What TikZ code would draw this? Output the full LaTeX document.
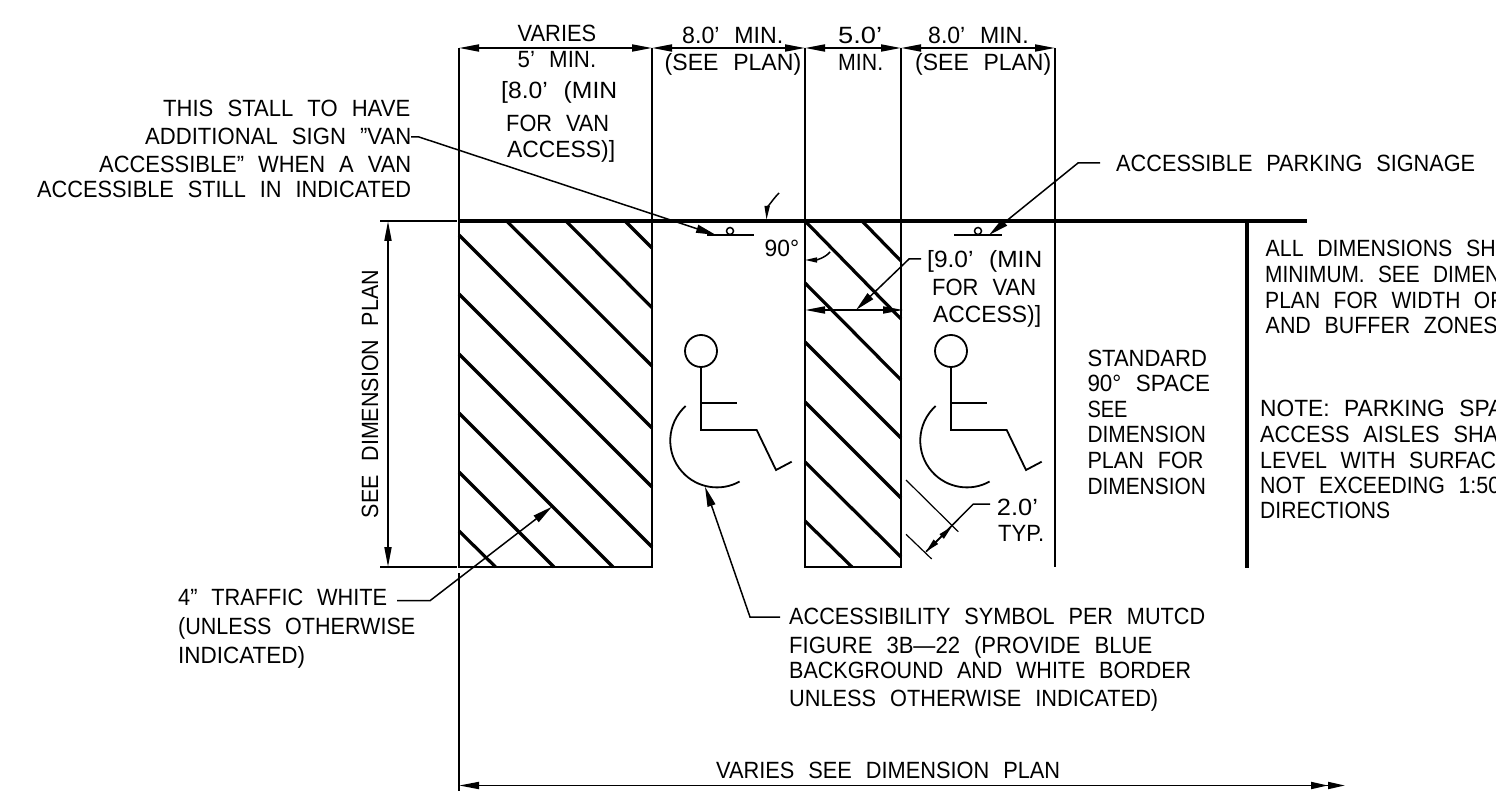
\documentclass[tikz,border=0pt]{standalone}
\usepackage{graphicx}
\usepackage{fontspec}
\setmainfont[FakeStretch=0.9,WordSpace=2.3]{Liberation Sans}
\usetikzlibrary{arrows.meta}
\tikzset{
  thinln/.style={line width=1.8pt,line join=miter},
  hatchln/.style={line width=3.2pt,line cap=butt},
  wall/.style={line width=4pt},
  thickln/.style={line width=3.5pt},
  bigdim/.style={thinln,{Triangle[length=20pt,width=7pt]}-{Triangle[length=20pt,width=7pt]}},
  leadarrow/.style={line width=1.5pt,-{Triangle[length=20pt,width=8pt]}},
  txt/.style={anchor=base west,inner sep=0pt,font=\fontsize{23.5pt}{23.5pt}\selectfont},
}
% name, left x, baseline y, width, text
\newcommand{\TL}[5]{\node[txt] (#1) at (#2,#3) {\resizebox{#4pt}{\height}{#5}};}
\newcommand{\WCHAIR}{%
  \draw[thinln] (701,351) circle[radius=16pt];
  \draw[thinln] (701,367) -- (701,430) -- (756.7,430) -- (776,470) -- (791.7,461.7);
  \draw[thinln] (701,403.3) -- (736.7,403.3);
  \draw[thinln] (685.7,406) arc[start angle=132,end angle=299,radius=46.7pt];
}
\begin{document}
\begin{tikzpicture}[x=1pt,y=-1pt]
\path[use as bounding box] (0,0) rectangle (1496,791);
\clip (0,0) rectangle (1496,791);
\fill[white] (0,0) rectangle (1496,791);

% grid coordinates
\coordinate (a0) at (459,48); \coordinate (a1) at (652,48); \coordinate (a2) at (805,48);
\coordinate (a3) at (901,48); \coordinate (a4) at (1055,48);
\coordinate (b1) at (652,567); \coordinate (b2) at (805,567); \coordinate (b3) at (901,567);
\coordinate (b4) at (1055,567); \coordinate (b0) at (459,567);
\coordinate (lowA) at (459,573); \coordinate (lowB) at (459,791);
\coordinate (wallL) at (459,221); \coordinate (wallR) at (1307,221);

% verticals
\draw[thinln] (a0) -- (b0) -- (b1) -- (a1);
\draw[thinln] (lowA) -- (lowB);
\draw[thinln] (a2) -- (b2) -- (b3) -- (a3);
\draw[thinln] (a4) -- (b4);
\draw[thickln] (1247,221) -- (1247,568);
\draw[wall] (wallL) -- (wallR);

% top dimensions
\draw[bigdim] (a0) -- (a1);
\draw[bigdim] (a1) -- (a2);
\draw[bigdim] (a2) -- (a3);
\draw[bigdim] (a3) -- (a4);

% left dimension
\draw[thinln] (380,221) -- (457,221);
\draw[thinln] (380,567) -- (457,567);
\draw[bigdim] (388,221) -- (388,567);
\node[txt,anchor=base,rotate=90] (seedim) at (378,394) {\resizebox{248pt}{\height}{SEE DIMENSION PLAN}};

% bottom dimension
\coordinate (botL) at (459,785.5); \coordinate (botR) at (1345,785.5);
\draw[thinln,{Triangle[length=20pt,width=7pt]}-{Triangle[length=17pt,width=7pt]Triangle[length=17pt,width=7pt]}] (botL) -- (botR);

% hatch left
\draw[hatchln] (506.7,221) -- (652,366);
\draw[hatchln] (566,221) -- (652,307.7);
\draw[hatchln] (625,221) -- (652,248);
\draw[hatchln] (459,235) -- (652,428);
\draw[hatchln] (459,294) -- (652,487);
\draw[hatchln] (459,354) -- (652,547);
\draw[hatchln] (459,413) -- (613,567);
\draw[hatchln] (459,472) -- (554,567);
\draw[hatchln] (459,531) -- (495.6,567);
% hatch right
\draw[hatchln] (805,221) -- (901,319);
\draw[hatchln] (862,221) -- (901,261);
\draw[hatchln] (805,283) -- (901,380);
\draw[hatchln] (805,342) -- (901,438);
\draw[hatchln] (805,402) -- (901,498);
\draw[hatchln] (805,462) -- (901,557);
\draw[hatchln] (805,521) -- (852,567);

% signs
\coordinate (signA) at (716,235); \coordinate (signB) at (989,235);
\draw[thinln] (707,235) -- (754,235);
\draw[line width=1.5pt] (730,231) circle[radius=3.5pt];
\draw[thinln] (954,235) -- (1002,235);
\draw[line width=1.5pt] (978,231) circle[radius=3.5pt];

% wheelchairs
\WCHAIR
\begin{scope}[xshift=250pt]\WCHAIR\end{scope}

% curved marks
\coordinate (brkA) at (779,193); \coordinate (brkB) at (766.5,220);
\draw[line width=1.5pt,-{Triangle[length=14pt,width=5pt]}] (brkA) .. controls (772,200) and (767,209) .. (brkB);
\coordinate (angA) at (830,252); \coordinate (angB) at (805,260);
\draw[line width=1.5pt,-{Triangle[length=12pt,width=5pt]}] (angA) .. controls (825,258) and (816,260) .. (angB);

% 5 ft width dimension
\coordinate (dimL) at (805,310); \coordinate (dimR) at (903,310);
\draw[bigdim] (dimL) -- (dimR);

% 2.0 dim
\draw[line width=1.2pt] (906,480) -- (958.3,531.7);
\draw[line width=1.2pt] (906,534.3) -- (931.7,559);
\coordinate (t2A) at (926,551.7); \coordinate (t2B) at (951.7,526.7);
\coordinate (t2C) at (973.3,504); \coordinate (t2D) at (990,504);
\draw[line width=1.5pt,-{Triangle[length=14pt,width=6pt]}] (t2D) -- (t2C) -- (t2A);
\draw[line width=1.5pt,-{Triangle[length=14pt,width=6pt]}] (t2A) -- (t2B);

% leaders
\coordinate (v1) at (411,137); \coordinate (v2) at (419,137);
\draw[leadarrow] (v1) -- (v2) -- (signA);
\coordinate (s1) at (1100,163); \coordinate (s2) at (1078,163);
\draw[leadarrow] (s1) -- (s2) -- (signB);
\coordinate (n1) at (921,259); \coordinate (n2) at (909,259); \coordinate (n3) at (856,310);
\draw[leadarrow] (n1) -- (n2) -- (n3);
\coordinate (h1) at (397,600.7); \coordinate (h2) at (430,600.7); \coordinate (h3) at (552,506.7);
\draw[leadarrow] (h1) -- (h2) -- (h3);
\coordinate (q1) at (780,617); \coordinate (q2) at (750,617); \coordinate (q3) at (705,486.7);
\draw[leadarrow] (q1) -- (q2) -- (q3);

% top texts
\TL{t01}{517.5}{42}{78.5}{VARIES}
\TL{t02}{517.5}{68}{78.5}{5' MIN.}
\TL{t03}{501}{99}{116}{[8.0' (MIN}
\TL{t04}{506}{132}{103}{FOR VAN}
\TL{t05}{507}{158}{108}{ACCESS)]}
\TL{t06}{682}{44}{101}{8.0' MIN.}
\TL{t07}{664.5}{71}{136.5}{(SEE PLAN)}
\TL{t08}{838}{44}{44}{5.0'}
\TL{t09}{838}{71}{45}{MIN.}
\TL{t10}{928}{44}{100.5}{8.0' MIN.}
\TL{t11}{915}{71}{136}{(SEE PLAN)}

% left note
\TL{t12}{163}{117}{247}{THIS STALL TO HAVE}
\TL{t13}{145}{145}{266}{ADDITIONAL SIGN "VAN}
\TL{t14}{99}{172.7}{312}{ACCESSIBLE" WHEN A VAN}
\TL{t15}{37}{198}{374}{ACCESSIBLE STILL IN INDICATED}

\TL{t16}{178}{605}{209}{4" TRAFFIC WHITE}
\TL{t17}{178}{634}{237}{(UNLESS OTHERWISE}
\TL{t18}{178}{663}{127}{INDICATED)}

% van note
\TL{t19}{927}{268}{115}{[9.0' (MIN}
\TL{t20}{932}{296}{104}{FOR VAN}
\TL{t21}{933}{323}{108}{ACCESS)]}

% right
\TL{t22}{1116}{172}{359}{ACCESSIBLE PARKING SIGNAGE}
\TL{t23}{1087.3}{366.7}{119.4}{STANDARD}
\TL{t24}{1087.3}{391.7}{122.7}{90° SPACE}
\TL{t25}{1087.3}{417.3}{40}{SEE}
\TL{t26}{1087.3}{442.7}{118.4}{DIMENSION}
\TL{t27}{1087.3}{468}{116}{PLAN FOR}
\TL{t28}{1087.3}{494}{118.4}{DIMENSION}

\TL{t29}{996.7}{515}{41}{2.0'}
\TL{t30}{998}{541.6}{46}{TYP.}
\TL{t31}{764.5}{257}{34.5}{90°}

\TL{t32}{1265.5}{256.7}{230}{ALL DIMENSIONS SH}
\TL{t33}{1265}{282.7}{235}{MINIMUM. SEE DIMEN}
\TL{t34}{1265}{308.3}{238}{PLAN FOR WIDTH OF}
\TL{t35}{1265.5}{334}{232}{AND BUFFER ZONES}
\TL{t36}{1260}{416.7}{243}{NOTE: PARKING SPA}
\TL{t37}{1260}{442.7}{238}{ACCESS AISLES SHA}
\TL{t38}{1260}{468.3}{236}{LEVEL WITH SURFAC}
\TL{t39}{1260}{493.3}{240}{NOT EXCEEDING 1:50}
\TL{t40}{1260}{518.3}{130}{DIRECTIONS}

% bottom
\TL{t41}{789}{624}{416}{ACCESSIBILITY SYMBOL PER MUTCD}
\TL{t42}{789}{653}{363}{FIGURE 3B—22 (PROVIDE BLUE}
\TL{t43}{789}{678}{402}{BACKGROUND AND WHITE BORDER}
\TL{t44}{789}{706.7}{369}{UNLESS OTHERWISE INDICATED)}
\TL{t45}{716}{778}{344}{VARIES SEE DIMENSION PLAN}
\end{tikzpicture}
\end{document}
